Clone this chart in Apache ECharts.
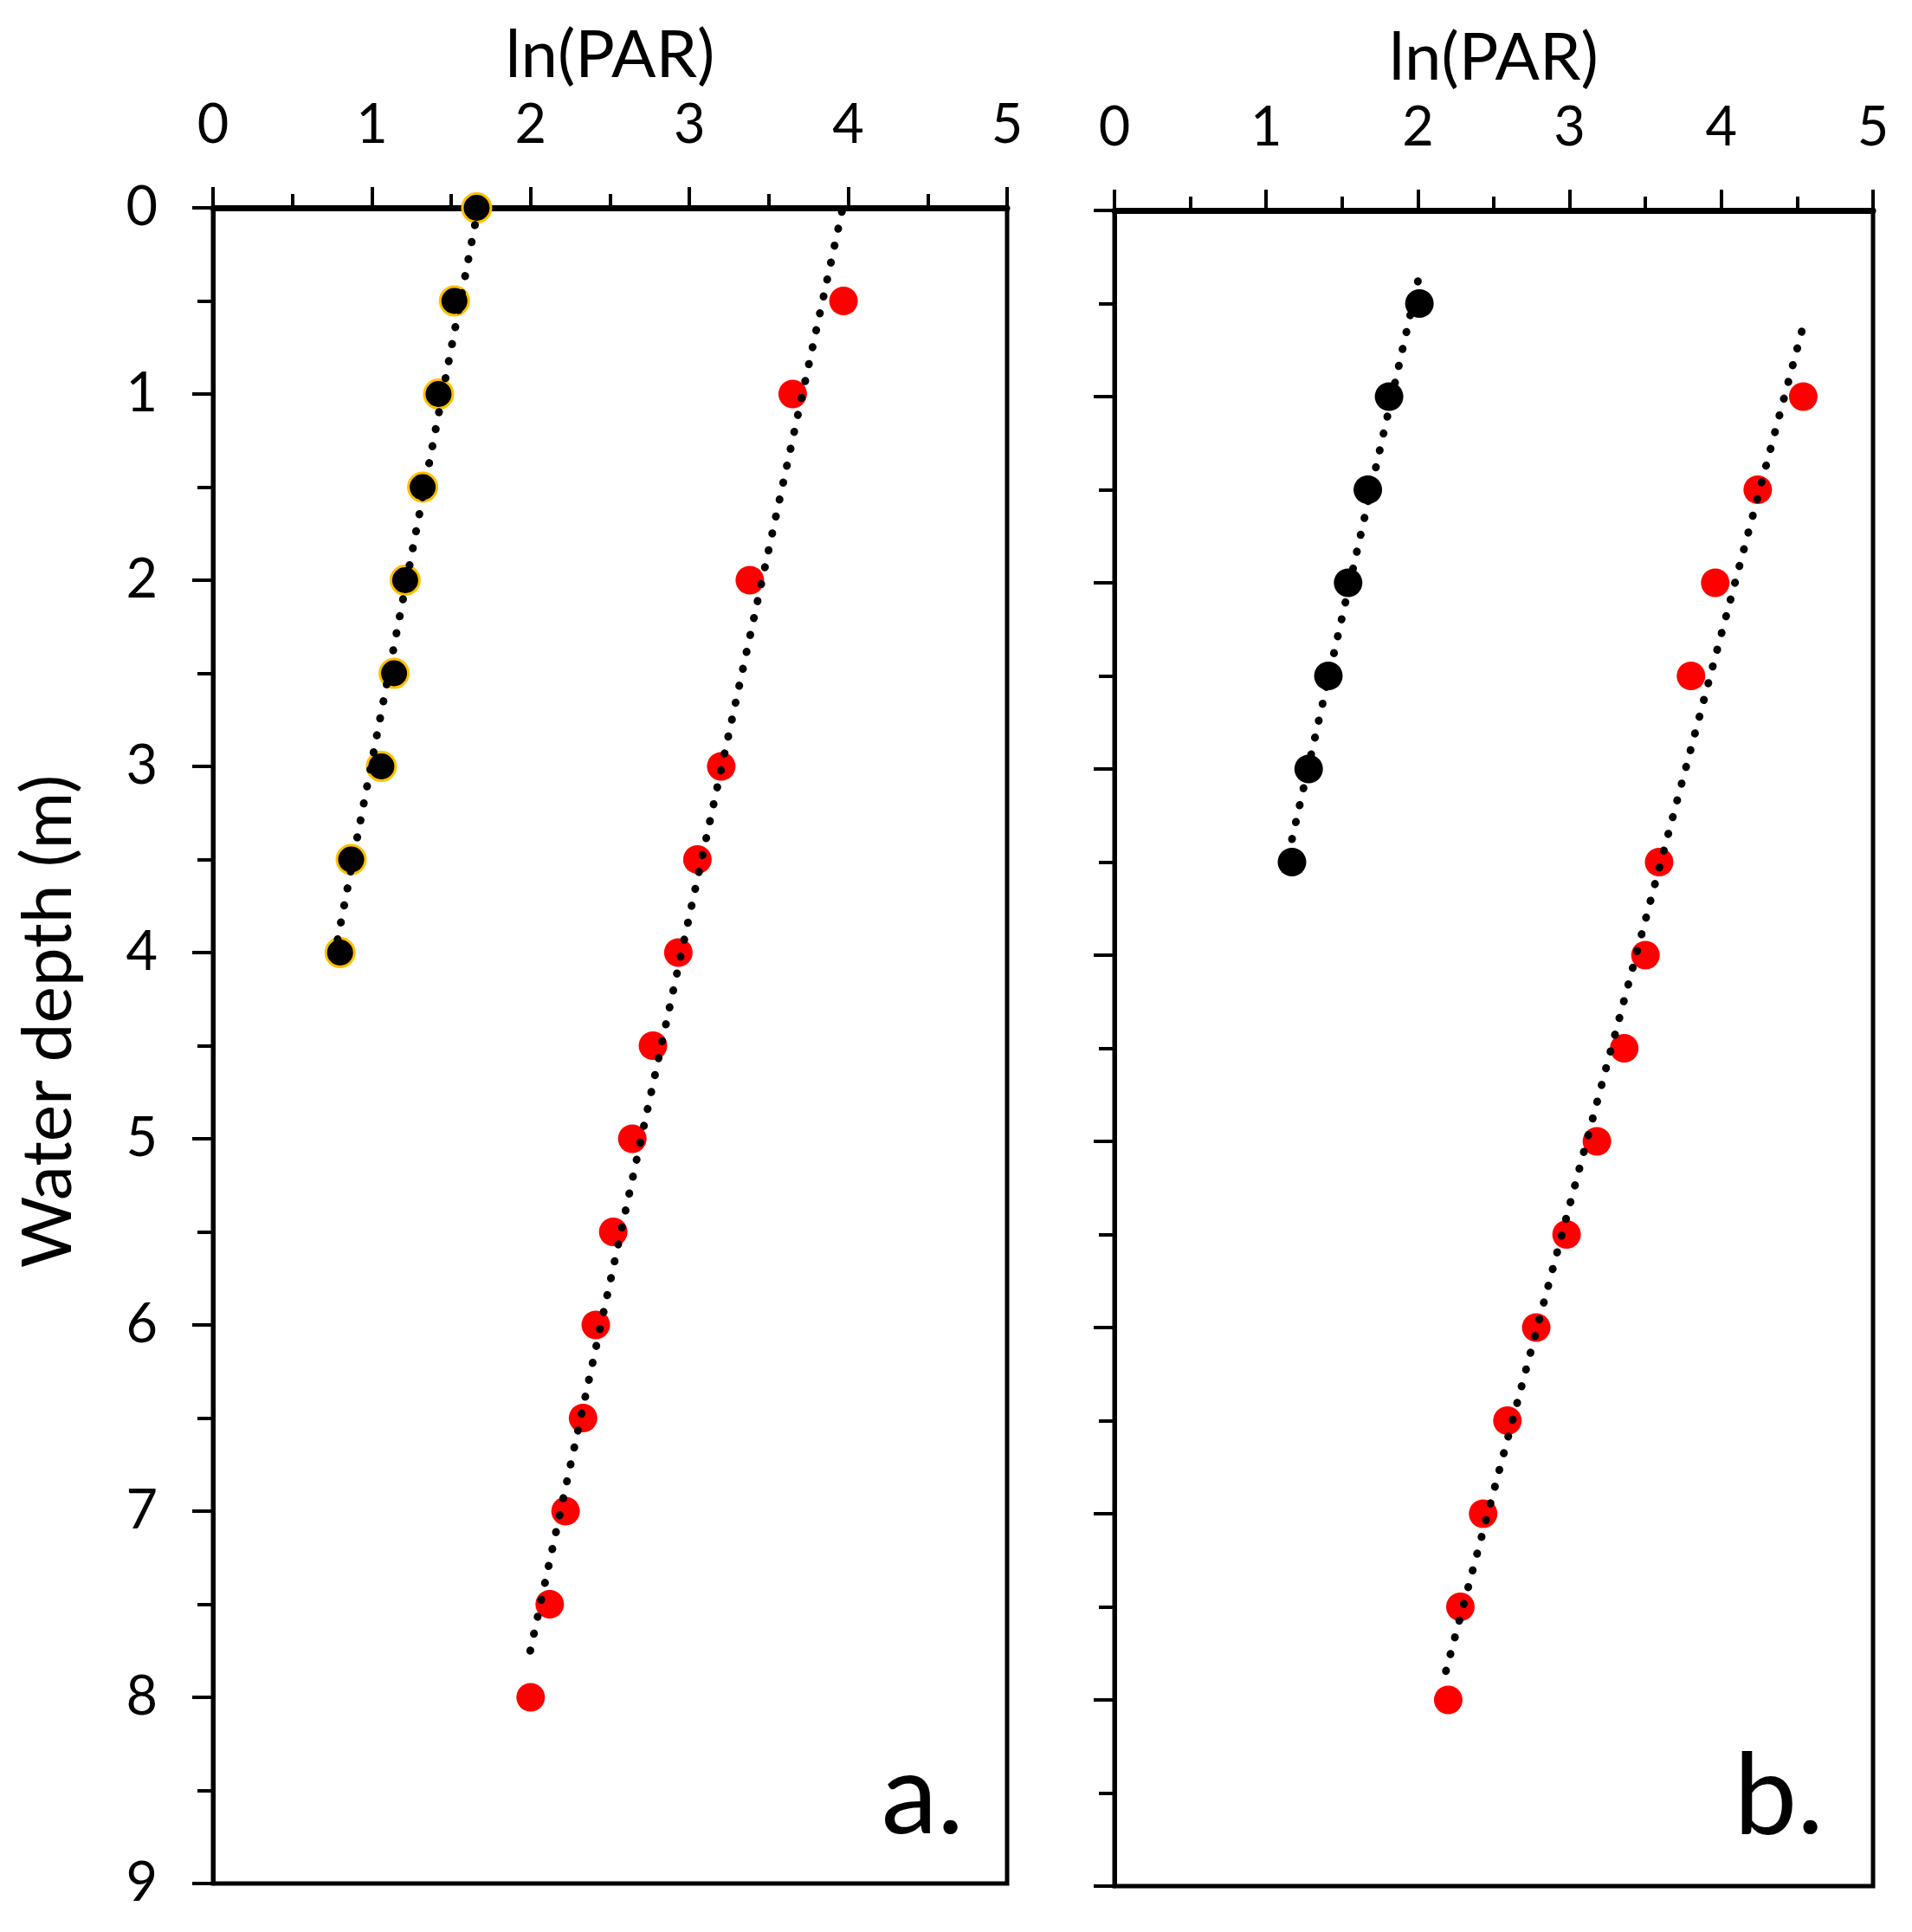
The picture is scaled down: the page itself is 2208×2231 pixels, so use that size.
<!DOCTYPE html>
<html><head><meta charset="utf-8">
<script src="https://cdn.jsdelivr.net/npm/echarts@6/dist/echarts.min.js"></script>
<style>html,body{margin:0;padding:0;background:#fff}#c{width:2208px;height:2231px}</style>
</head><body><div id="c"></div>
<script>
// ---- data ----
const xAxisTitle = 'ln(PAR)';
const yAxisTitle = 'Water depth (m)';
const panelLabels = ['a.', 'b.'];
const xMin = 0, xMax = 5, xInterval = 1;
const depthMin = 0, depthMax = 9, depthInterval = 1;

const aBlackDepth = [0, 0.5, 1, 1.5, 2, 2.5, 3, 3.5, 4];
const aBlackLnPAR = [1.66, 1.52, 1.42, 1.32, 1.21, 1.14, 1.06, 0.87, 0.80];
const aRedDepth = [0.5, 1, 2, 3, 3.5, 4, 4.5, 5, 5.5, 6, 6.5, 7, 7.5, 8];
const aRedLnPAR = [3.97, 3.65, 3.38, 3.20, 3.05, 2.93, 2.77, 2.64, 2.52, 2.41, 2.33, 2.22, 2.12, 2.00];

const bBlackDepth = [0.5, 1, 1.5, 2, 2.5, 3, 3.5];
const bBlackLnPAR = [2.01, 1.81, 1.67, 1.54, 1.41, 1.28, 1.17];
const bRedDepth = [1, 1.5, 2, 2.5, 3.5, 4, 4.5, 5, 5.5, 6, 6.5, 7, 7.5, 8];
const bRedLnPAR = [4.54, 4.24, 3.96, 3.80, 3.59, 3.50, 3.36, 3.18, 2.98, 2.78, 2.59, 2.43, 2.28, 2.20];

// dotted linear trendlines (end points)
const aBlackTrendLnPAR = [1.67, 0.78];
const aBlackTrendDepth = [0.0, 3.95];
const aRedTrendLnPAR = [3.96, 1.99];
const aRedTrendDepth = [0.02, 7.78];
const bBlackTrendLnPAR = [2.00, 1.15];
const bBlackTrendDepth = [0.38, 3.45];
const bRedTrendLnPAR = [4.53, 2.18];
const bRedTrendDepth = [0.65, 7.86];

// ---- helpers ----
function pts(xs, ds) { return xs.map((x, i) => [x, ds[i]]); }

const FONT = 'Lato';
const grids = [
  { left: 246, top: 240, width: 917, height: 1935 },
  { left: 1287, top: 243, width: 876, height: 1935 }
];

function xAxisFor(i) {
  return {
    type: 'value', gridIndex: i, position: 'top', min: xMin, max: xMax, interval: xInterval,
    name: xAxisTitle, nameLocation: 'middle', nameGap: 138,
    nameTextStyle: { fontFamily: FONT, fontSize: 76, color: '#000' },
    axisLine: { show: true, onZero: false, lineStyle: { color: '#000', width: 7 } },
    axisTick: { show: true, inside: false, length: 24, lineStyle: { color: '#000', width: 4 } },
    minorTick: { show: true, splitNumber: 2, length: 16, lineStyle: { color: '#000', width: 4 } },
    axisLabel: { show: true, margin: 64, fontFamily: FONT, fontSize: 63, color: '#000' },
    splitLine: { show: false }, minorSplitLine: { show: false }
  };
}
function yAxisFor(i) {
  return {
    type: 'value', gridIndex: i, inverse: true, min: depthMin, max: depthMax, interval: depthInterval,
    name: i === 0 ? yAxisTitle : '', nameLocation: 'middle', nameGap: 150,
    nameTextStyle: { fontFamily: FONT, fontSize: 80, color: '#000', padding: [0, 0, 0, 56] },
    axisLine: { show: true, onZero: false, lineStyle: { color: '#000', width: 5 } },
    axisTick: { show: true, inside: false, length: 24, lineStyle: { color: '#000', width: 4 } },
    minorTick: { show: true, splitNumber: 2, length: 18, lineStyle: { color: '#000', width: 4 } },
    axisLabel: { show: i === 0, margin: 64, fontFamily: FONT, fontSize: 63, color: '#000' },
    splitLine: { show: false }, minorSplitLine: { show: false }
  };
}

const dotted = { color: '#000', width: 9, type: [0.5, 19.5], cap: 'round', opacity: 1 };
function scatter(i, data, color, border) {
  return {
    type: 'scatter', xAxisIndex: i, yAxisIndex: i, data, symbol: 'circle', symbolSize: 33, z: 2,
    itemStyle: border ? { color, opacity: 1, borderColor: '#FFC000', borderWidth: 3 } : { color, opacity: 1, borderWidth: 0 },
    emphasis: { disabled: true }, silent: true
  };
}
function line(i, data) {
  return {
    type: 'line', xAxisIndex: i, yAxisIndex: i, data, showSymbol: false, symbol: 'none', z: 3,
    lineStyle: dotted, silent: true, animation: false
  };
}

const chart = echarts.init(document.getElementById('c'), null, { renderer: 'canvas' });
chart.setOption({
  animation: false,
  backgroundColor: '#fff',
  grid: grids.map(g => Object.assign({ show: true, borderColor: '#000', borderWidth: 5, backgroundColor: 'transparent' }, g)),
  xAxis: [xAxisFor(0), xAxisFor(1)],
  yAxis: [yAxisFor(0), yAxisFor(1)],
  series: [
    scatter(0, pts(aBlackLnPAR, aBlackDepth), '#000', true),
    scatter(0, pts(aRedLnPAR, aRedDepth), '#FF0000', false),
    line(0, pts(aBlackTrendLnPAR, aBlackTrendDepth)),
    line(0, pts(aRedTrendLnPAR, aRedTrendDepth)),
    scatter(1, pts(bBlackLnPAR, bBlackDepth), '#000', false),
    scatter(1, pts(bRedLnPAR, bRedDepth), '#FF0000', false),
    line(1, pts(bBlackTrendLnPAR, bBlackTrendDepth)),
    line(1, pts(bRedTrendLnPAR, bRedTrendDepth))
  ],
  graphic: [
    { type: 'text', x: 1113, y: 2140, style: { text: panelLabels[0], fontFamily: FONT, fontSize: 130, fill: '#000', align: 'right', verticalAlign: 'bottom' } },
    { type: 'text', x: 2106, y: 2140, style: { text: panelLabels[1], fontFamily: FONT, fontSize: 130, fill: '#000', align: 'right', verticalAlign: 'bottom' } }
  ]
});
</script></body></html>
